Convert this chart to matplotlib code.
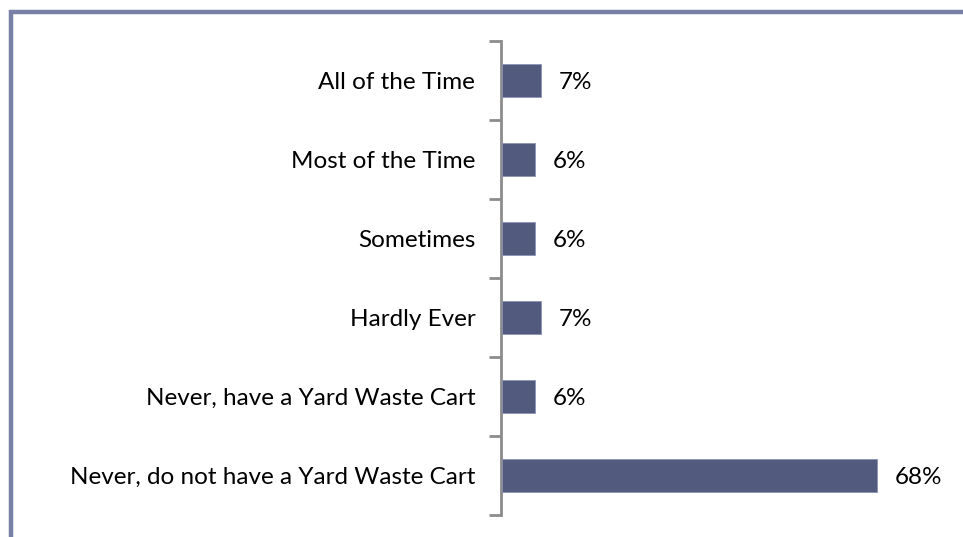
import matplotlib
matplotlib.use("Agg")
import matplotlib.pyplot as plt
from matplotlib.patches import Rectangle

categories = [
    "All of the Time",
    "Most of the Time",
    "Sometimes",
    "Hardly Ever",
    "Never, have a Yard Waste Cart",
    "Never, do not have a Yard Waste Cart",
]
values = [7, 6, 6, 7, 6, 68]
value_labels = ["7%", "6%", "6%", "7%", "6%", "68%"]

plt.rcParams["font.family"] = ["Lato", "DejaVu Sans"]

W, H = 963, 537
fig = plt.figure(figsize=(W / 100, H / 100), dpi=100)

# outer frame (left and top edges visible)
fig.patches.append(Rectangle((11 / W, -0.1), 1.2, (H - 12) / H + 0.1,
                             transform=fig.transFigure, fill=False,
                             edgecolor="#7880A8", linewidth=3.2))

ax_left, ax_right = 501 / W, 942 / W
ax_top, ax_bot = 1 - 41 / H, 1 - 515 / H
ax = fig.add_axes([ax_left, ax_bot, ax_right - ax_left, ax_top - ax_bot])

n = len(categories)
pos = list(range(n))
ax.barh(pos, values, height=0.41, left=0.25, color="#525A7E",
        edgecolor="#8C93B5", linewidth=0.6, zorder=3)
ax.set_ylim(n - 0.5, -0.5)
ax.set_xlim(0, 80)

for p, v, lab in zip(pos, values, value_labels):
    ax.text(v + 0.25 + 3.2, p, lab, va="center_baseline", ha="left",
            fontsize=17.5, color="black")

ax.set_yticks(pos)
ax.set_yticklabels(categories, fontsize=17.5, va="center_baseline")
ax.set_yticks([i - 0.5 for i in range(n + 1)], minor=True)
ax.tick_params(axis="y", which="major", length=0, pad=18.5)
ax.tick_params(axis="y", which="minor", length=9, width=2, color="#8C8C8C")
ax.set_xticks([])

for s in ["top", "right", "bottom"]:
    ax.spines[s].set_visible(False)
ax.spines["left"].set_color("#8C8C8C")
ax.spines["left"].set_linewidth(2)

fig.savefig("out.png", dpi=100)
